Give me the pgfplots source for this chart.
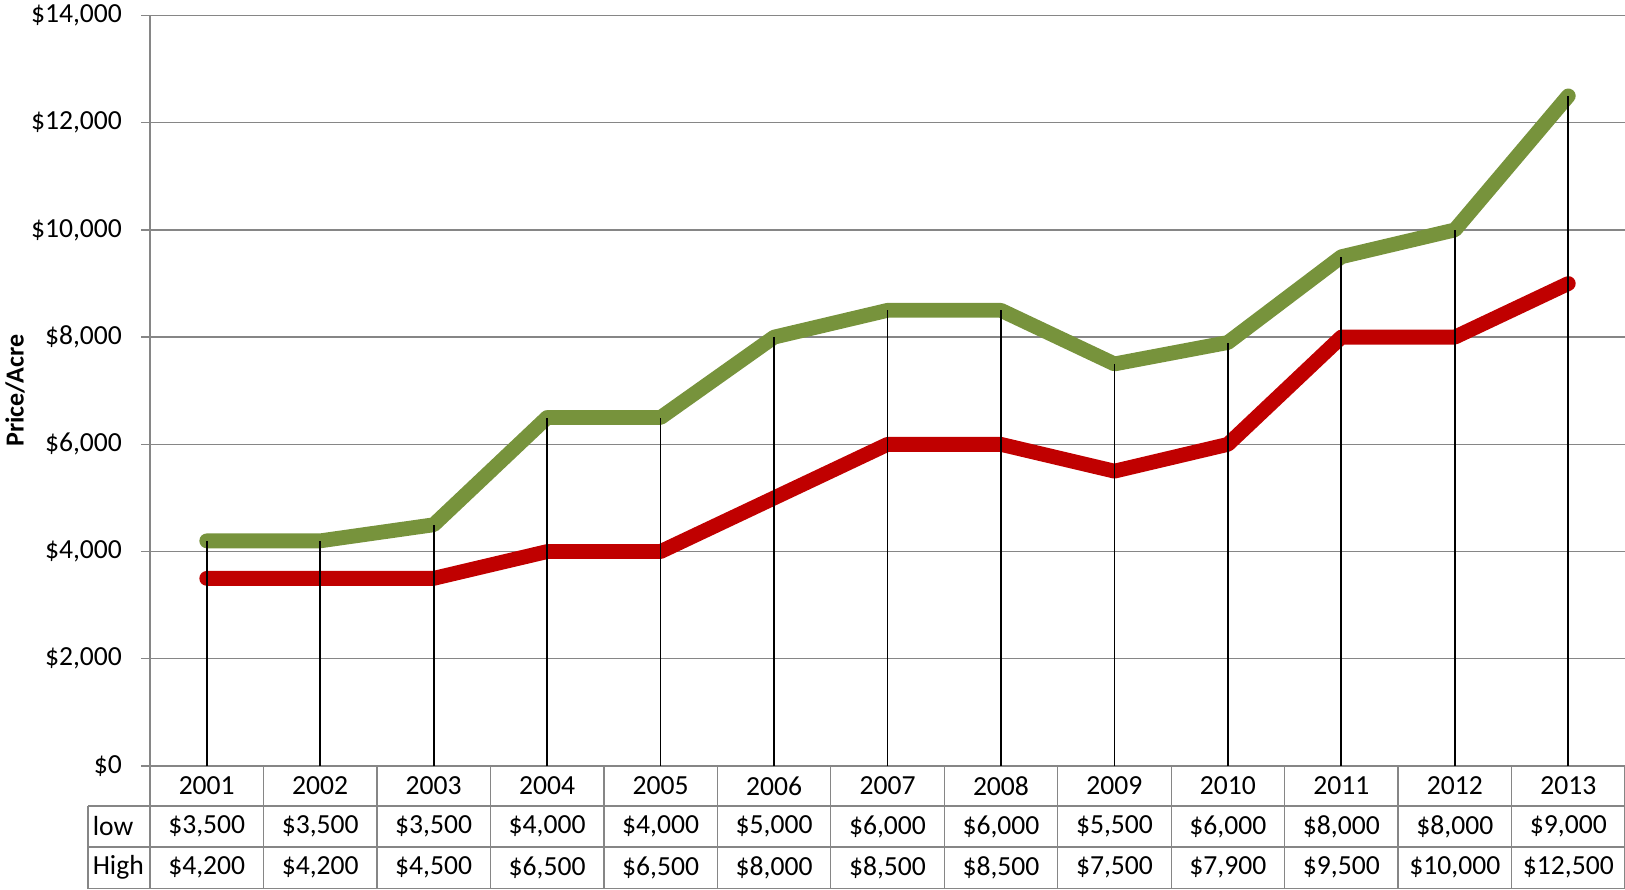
\documentclass[border=0pt]{standalone}
\usepackage{fontspec}
\setmainfont{Carlito}
\usepackage{pgfplots}
\pgfplotsset{compat=1.18}
\definecolor{hi}{RGB}{119,147,60}
\definecolor{lo}{RGB}{192,0,0}
\definecolor{gridg}{RGB}{134,134,134}
\begin{document}
\begin{tikzpicture}[font=\fontsize{13.8}{16.5}\selectfont]
\useasboundingbox (-75pt,-61.5pt) rectangle (737.5pt,383pt);
\begin{axis}[
  at={(0,0)}, anchor=south west,
  scale only axis, width=737.5pt, height=375.25pt,
  xmin=0.5, xmax=13.5, ymin=0, ymax=14000,
  xtick=\empty,
  ytick={0,2000,...,14000},
  scaled y ticks=false,
  ymajorgrids, major grid style={gridg, line width=0.65pt},
  axis lines=left,
  axis line style={gridg, line width=0.65pt, -},
  tick align=outside, major tick length=4.5pt,
  ytick style={gridg, line width=0.65pt},
  /pgf/number format/.cd, fixed, precision=0, 1000 sep={,}, assume math mode=true,
  /pgfplots/.cd,
  yticklabel={\$\pgfmathprintnumber{\tick}},
  yticklabel style={font=\fontsize{13.8}{16.5}\selectfont, xshift=-6pt},
  ylabel={Price/Acre},
  every axis y label/.style={at={(axis description cs:0,0.5)}, xshift=-67.5pt, rotate=90, anchor=center, font=\fontsize{13}{15.6}\selectfont\bfseries},
  clip=false,
]
\addplot[lo, line width=7.4pt, line cap=round, line join=round] coordinates {
 (1,3500) (2,3500) (3,3500) (4,4000) (5,4000) (6,5000) (7,6000) (8,6000) (9,5500) (10,6000) (11,8000) (12,8000) (13,9000)};
\addplot[hi, line width=7.4pt, line cap=round, line join=round] coordinates {
 (1,4200) (2,4200) (3,4500) (4,6500) (5,6500) (6,8000) (7,8500) (8,8500) (9,7500) (10,7900) (11,9500) (12,10000) (13,12500)};
\addplot[ycomb, black, line width=0.9pt] coordinates {
 (1,4200) (2,4200) (3,4500) (4,6500) (5,6500) (6,8000) (7,8500) (8,8500) (9,7500) (10,7900) (11,9500) (12,10000) (13,12500)};
\end{axis}
\def\cw{56.7308}
\begin{scope}[gridg, line width=0.65pt]
\foreach \k in {0,...,13} \draw (\k*\cw pt,0) -- (\k*\cw pt,-61.5pt);
\draw (-31pt,-20pt) -- (737.5pt,-20pt);
\draw (-31pt,-40.5pt) -- (737.5pt,-40.5pt);
\draw (-31pt,-61.2pt) -- (737.5pt,-61.2pt);
\draw (-31pt,-20pt) -- (-31pt,-61.5pt);
\draw (737.2pt,0) -- (737.2pt,-61.5pt);
\end{scope}
\node[anchor=west, inner sep=0pt] at (-28.8pt,-30.25pt) {low};
\node[anchor=west, inner sep=0pt] at (-28.8pt,-50.75pt) {High};
\foreach \l/\h [count=\i] in {3500/4200,3500/4200,3500/4500,4000/6500,4000/6500,5000/8000,6000/8500,6000/8500,5500/7500,6000/7900,8000/9500,8000/10000,9000/12500} {
  \node at ({(\i-0.5)*\cw pt},-10pt) {\the\numexpr2000+\i\relax};
  \node at ({(\i-0.5)*\cw pt},-30.25pt) {\$\pgfmathprintnumber[fixed,precision=0,1000 sep={,},assume math mode=true]{\l}};
  \node at ({(\i-0.5)*\cw pt},-50.75pt) {\$\pgfmathprintnumber[fixed,precision=0,1000 sep={,},assume math mode=true]{\h}};
}
\end{tikzpicture}
\end{document}
